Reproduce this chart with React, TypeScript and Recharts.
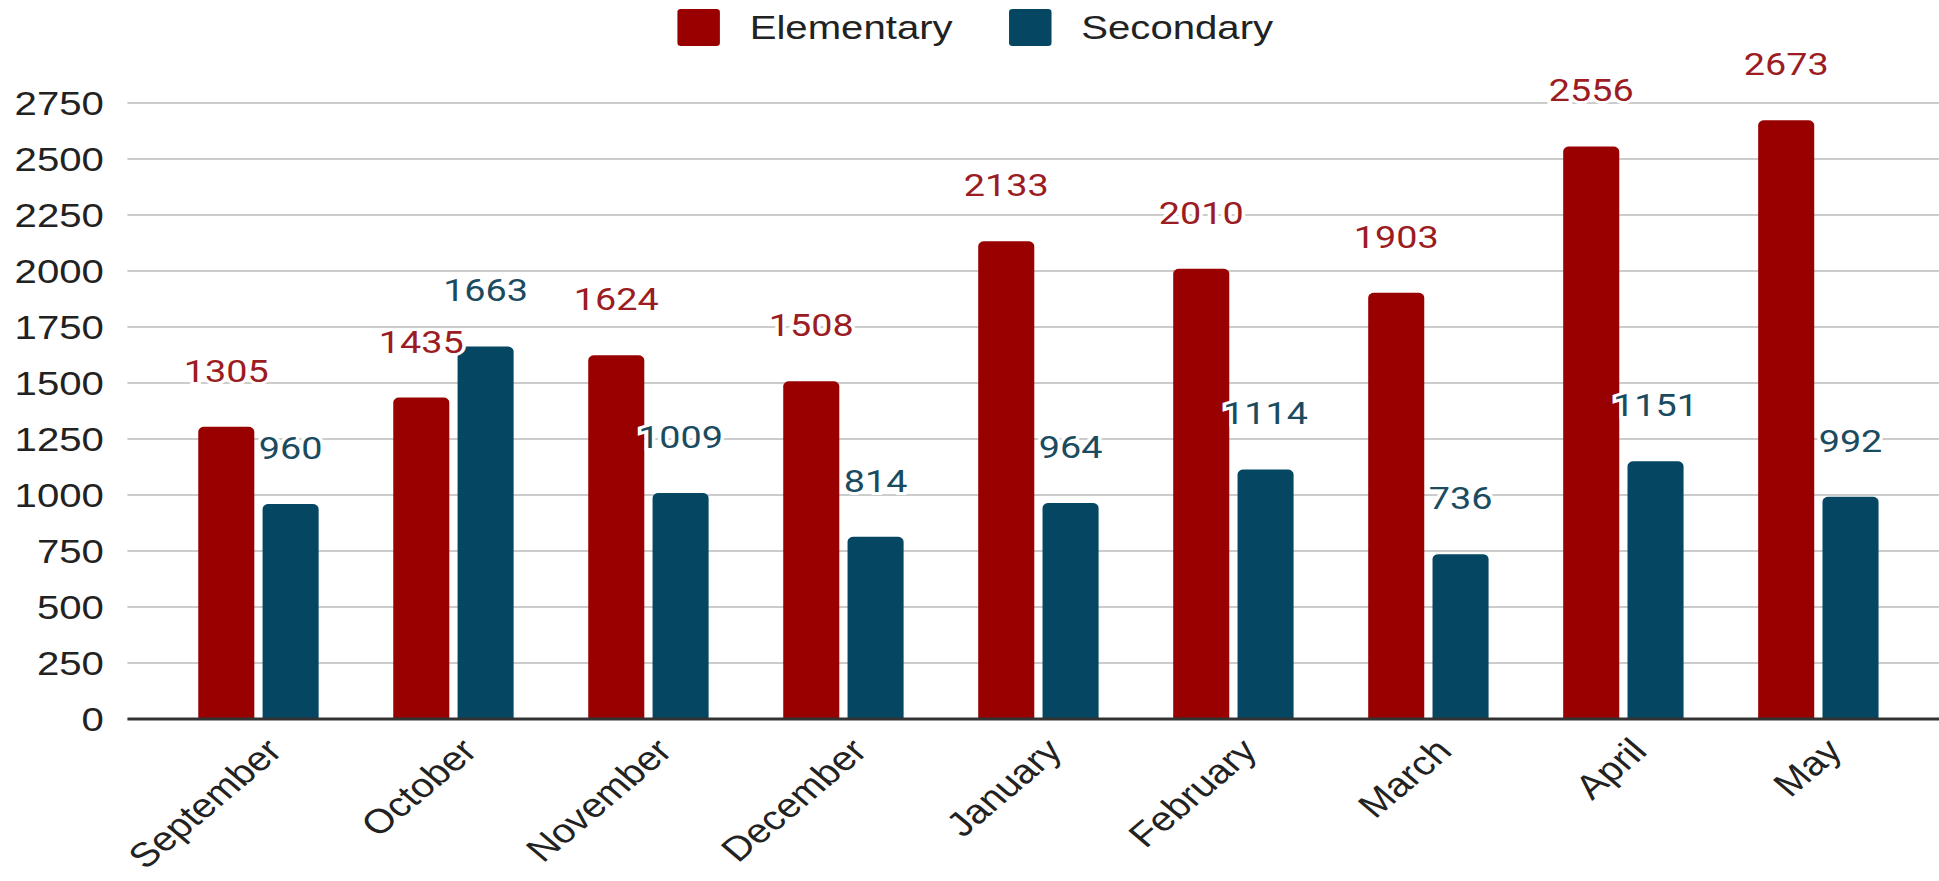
import { Bar, BarChart, CartesianGrid, LabelList, XAxis, YAxis } from "recharts";

const months = [
  "September",
  "October",
  "November",
  "December",
  "January",
  "February",
  "March",
  "April",
  "May",
];
const elementary = [1305, 1435, 1624, 1508, 2133, 2010, 1903, 2556, 2673];
const secondary = [960, 1663, 1009, 814, 964, 1114, 736, 1151, 992];
const yTicks = [0, 250, 500, 750, 1000, 1250, 1500, 1750, 2000, 2250, 2500, 2750];

const RED = "#990000";
const TEAL = "#054762";
const RED_TEXT = "#9b1c22";
const TEAL_TEXT = "#1a4b5f";
const AXIS_FONT = "'Liberation Sans', Arial, sans-serif";

// the reference is stretched sideways, so draw narrower and scale x
const W = 1643;
const H = 881;
const STRETCH = 1939 / W;

const data = months.map((m, i) => ({
  month: m,
  elementary: elementary[i],
  secondary: secondary[i],
}));

function MonthTick({ x, y, payload }: any) {
  const ax = x + 22;
  const ay = y + 34;
  return (
    <text
      x={ax}
      y={ay}
      transform={`rotate(-45, ${ax}, ${ay})`}
      textAnchor="end"
      fontSize={34}
      fill="#222"
      fontFamily={AXIS_FONT}
    >
      {payload.value}
    </text>
  );
}

const valueLabel = (color: string) => (props: any) => {
  const { x, y, width, value } = props;
  return (
    <text
      x={x + width / 2}
      y={y - 45}
      textAnchor="middle"
      fill={color}
      stroke="#fff"
      strokeWidth={6}
      paintOrder="stroke"
      fontSize={32}
      fontFamily="Roboto, sans-serif"
    >
      {value}
    </text>
  );
};

function LegendItem({ color, label }: { color: string; label: string }) {
  return (
    <div style={{ display: "flex", alignItems: "center" }}>
      <div
        style={{
          width: 36,
          height: 37,
          borderRadius: 3,
          background: color,
          marginRight: 25,
        }}
      />
      <span style={{ fontSize: 34, lineHeight: "37px", color: "#222" }}>
        {label}
      </span>
    </div>
  );
}

export default function App() {
  return (
    <div
      style={{
        position: "absolute",
        left: 0,
        top: 0,
        width: 1939,
        height: H,
        overflow: "hidden",
        background: "#fff",
      }}
    >
      <div
        style={{
          position: "relative",
          width: W,
          height: H,
          transform: `scaleX(${STRETCH})`,
          transformOrigin: "0 0",
        }}
      >
        <div
          style={{
            position: "absolute",
            top: 9,
            left: 5,
            width: W,
            display: "flex",
            justifyContent: "center",
            gap: 48,
            fontFamily: AXIS_FONT,
          }}
        >
          <LegendItem color={RED} label="Elementary" />
          <LegendItem color={TEAL} label="Secondary" />
        </div>
        <BarChart
          width={W}
          height={H}
          data={data}
          margin={{ top: 103, right: 0, bottom: 0, left: 0 }}
          barGap={7}
        >
          <CartesianGrid vertical={false} stroke="#cccccc" strokeWidth={2} />
          <XAxis
            dataKey="month"
            height={162}
            padding={{ left: 28, right: 20 }}
            tickLine={false}
            axisLine={{ stroke: "#333", strokeWidth: 3 }}
            tickSize={0}
            tickMargin={0}
            interval={0}
            tick={<MonthTick />}
          />
          <YAxis
            width={108}
            domain={[0, 2750]}
            ticks={yTicks}
            axisLine={false}
            tickLine={false}
            tickSize={0}
            tickMargin={20}
            tick={{ fontSize: 34, fill: "#222", fontFamily: AXIS_FONT }}
          />
          <Bar
            dataKey="elementary"
            fill={RED}
            barSize={47.5}
            radius={[5, 5, 0, 0]}
            isAnimationActive={false}
          >
            <LabelList dataKey="elementary" content={valueLabel(RED_TEXT)} />
          </Bar>
          <Bar
            dataKey="secondary"
            fill={TEAL}
            barSize={47.5}
            radius={[5, 5, 0, 0]}
            isAnimationActive={false}
          >
            <LabelList dataKey="secondary" content={valueLabel(TEAL_TEXT)} />
          </Bar>
        </BarChart>
      </div>
    </div>
  );
}
